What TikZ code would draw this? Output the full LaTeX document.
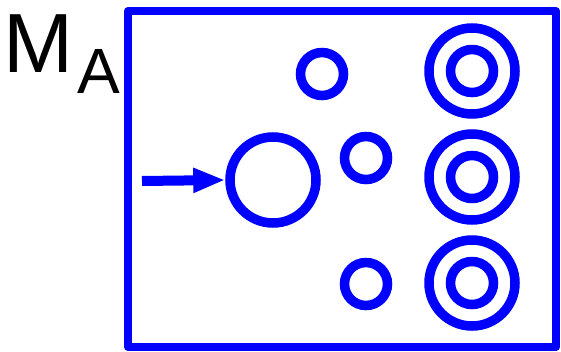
\documentclass[tikz,border=0pt]{standalone}
\usepackage{fontspec}
\setmainfont{Liberation Sans}
\usetikzlibrary{arrows.meta}
\definecolor{pureblue}{RGB}{0,0,255}
\tikzset{
  ring/.style={circle, draw=pureblue, line width=9.5pt, inner sep=0pt, minimum size=#1},
  frame/.style={draw=pureblue, line width=8pt, line join=round},
  arr/.style={draw=pureblue, line width=10pt, -{Triangle[length=32pt,width=23pt]}}
}
\begin{document}
\begin{tikzpicture}[x=1pt,y=-1pt]
\useasboundingbox (0,0) rectangle (561,351);
\draw[frame] (128,11) rectangle (556,347);
\node[anchor=base west, inner sep=0pt, font=\fontsize{84}{84}\selectfont] (m) at (3.5,72) {M};
\node[anchor=base west, inner sep=0pt, font=\fontsize{64}{64}\selectfont] (a) at (77,93) {A};
\node[ring=86pt] (big) at (273,180) {};
\coordinate (start) at (142,181);
\draw[arr] (start) -- (big.west);
\node[ring=43pt] (s1) at (322,74) {};
\node[ring=43pt] (s2) at (366,158) {};
\node[ring=43pt] (s3) at (366,284) {};
\node[ring=86pt] (d1o) at (472,71) {};
\node[ring=43pt] (d1i) at (472,71) {};
\node[ring=86pt] (d2o) at (472,177) {};
\node[ring=43pt] (d2i) at (472,177) {};
\node[ring=86pt] (d3o) at (472,283) {};
\node[ring=43pt] (d3i) at (472,283) {};
\end{tikzpicture}
\end{document}
